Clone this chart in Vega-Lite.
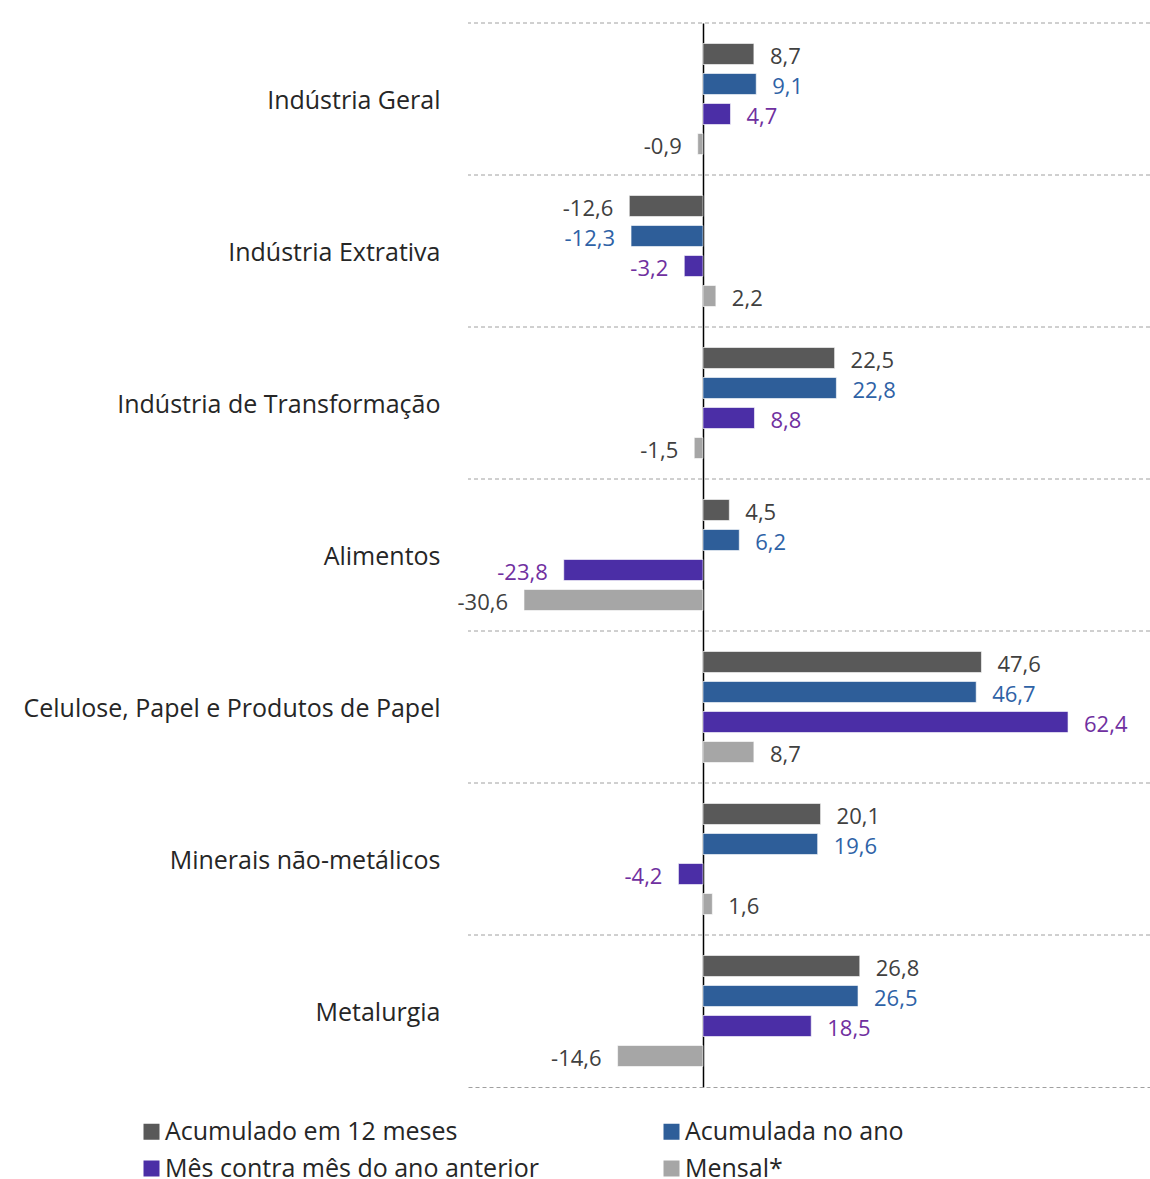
{
  "$schema": "https://vega.github.io/schema/vega-lite/v6.json",
  "width": 682,
  "height": 1064,
  "autosize": {"type": "none"},
  "padding": {"left": 468, "top": 23, "right": 0, "bottom": 92},
  "config": {
    "locale": {"number": {"decimal": ",", "thousands": ".", "grouping": [3], "currency": ["R$ ", ""], "minus": "-"}},
    "view": {"stroke": null},
    "font": "Open Sans"
  },
  "data": {
    "values": [
      {"setor": "Indústria Geral", "serie": "Acumulado em 12 meses", "valor": 8.7},
      {"setor": "Indústria Geral", "serie": "Acumulada no ano", "valor": 9.1},
      {"setor": "Indústria Geral", "serie": "Mês contra mês do ano anterior", "valor": 4.7},
      {"setor": "Indústria Geral", "serie": "Mensal*", "valor": -0.9},
      {"setor": "Indústria Extrativa", "serie": "Acumulado em 12 meses", "valor": -12.6},
      {"setor": "Indústria Extrativa", "serie": "Acumulada no ano", "valor": -12.3},
      {"setor": "Indústria Extrativa", "serie": "Mês contra mês do ano anterior", "valor": -3.2},
      {"setor": "Indústria Extrativa", "serie": "Mensal*", "valor": 2.2},
      {"setor": "Indústria de Transformação", "serie": "Acumulado em 12 meses", "valor": 22.5},
      {"setor": "Indústria de Transformação", "serie": "Acumulada no ano", "valor": 22.8},
      {"setor": "Indústria de Transformação", "serie": "Mês contra mês do ano anterior", "valor": 8.8},
      {"setor": "Indústria de Transformação", "serie": "Mensal*", "valor": -1.5},
      {"setor": "Alimentos", "serie": "Acumulado em 12 meses", "valor": 4.5},
      {"setor": "Alimentos", "serie": "Acumulada no ano", "valor": 6.2},
      {"setor": "Alimentos", "serie": "Mês contra mês do ano anterior", "valor": -23.8},
      {"setor": "Alimentos", "serie": "Mensal*", "valor": -30.6},
      {"setor": "Celulose, Papel e Produtos de Papel", "serie": "Acumulado em 12 meses", "valor": 47.6},
      {"setor": "Celulose, Papel e Produtos de Papel", "serie": "Acumulada no ano", "valor": 46.7},
      {"setor": "Celulose, Papel e Produtos de Papel", "serie": "Mês contra mês do ano anterior", "valor": 62.4},
      {"setor": "Celulose, Papel e Produtos de Papel", "serie": "Mensal*", "valor": 8.7},
      {"setor": "Minerais não-metálicos", "serie": "Acumulado em 12 meses", "valor": 20.1},
      {"setor": "Minerais não-metálicos", "serie": "Acumulada no ano", "valor": 19.6},
      {"setor": "Minerais não-metálicos", "serie": "Mês contra mês do ano anterior", "valor": -4.2},
      {"setor": "Minerais não-metálicos", "serie": "Mensal*", "valor": 1.6},
      {"setor": "Metalurgia", "serie": "Acumulado em 12 meses", "valor": 26.8},
      {"setor": "Metalurgia", "serie": "Acumulada no ano", "valor": 26.5},
      {"setor": "Metalurgia", "serie": "Mês contra mês do ano anterior", "valor": 18.5},
      {"setor": "Metalurgia", "serie": "Mensal*", "valor": -14.6}
    ]
  },
  "encoding": {
    "y": {
      "field": "setor",
      "type": "nominal",
      "sort": ["Indústria Geral", "Indústria Extrativa", "Indústria de Transformação", "Alimentos", "Celulose, Papel e Produtos de Papel", "Minerais não-metálicos", "Metalurgia"],
      "scale": {"paddingInner": 0, "paddingOuter": 0},
      "axis": {"title": null, "ticks": false, "domain": false, "grid": false, "labelFontSize": 25, "labelColor": "#262626", "labelPadding": 28, "labelLimit": 0, "labelOffset": 2}
    },
    "x": {
      "field": "valor",
      "type": "quantitative",
      "scale": {"domain": [-40.17, 76.41], "nice": false},
      "axis": {"title": null, "values": [0], "labels": false, "ticks": false, "grid": true, "gridColor": "#000000", "gridWidth": 1.5, "domain": true, "domainColor": "#a0a0a0", "domainDash": [4, 3], "domainWidth": 1}
    }
  },
  "layer": [
    {
      "transform": [{"filter": "datum.serie === 'Acumulado em 12 meses'"}],
      "mark": {"type": "rule", "color": "#a0a0a0", "strokeDash": [4, 3], "strokeWidth": 1},
      "encoding": {"y": {"field": "setor", "type": "nominal", "bandPosition": 0, "sort": ["Indústria Geral", "Indústria Extrativa", "Indústria de Transformação", "Alimentos", "Celulose, Papel e Produtos de Papel", "Minerais não-metálicos", "Metalurgia"]}, "x": null}
    },
    {
      "mark": {"type": "bar", "stroke": "#ffffff", "strokeWidth": 0.6},
      "encoding": {
        "yOffset": {"field": "serie", "sort": ["Acumulado em 12 meses", "Acumulada no ano", "Mês contra mês do ano anterior", "Mensal*"], "scale": {"paddingInner": 0.3, "paddingOuter": 0.683}},
        "color": {
          "field": "serie",
          "type": "nominal",
          "scale": {"domain": ["Acumulado em 12 meses", "Acumulada no ano", "Mês contra mês do ano anterior", "Mensal*"], "range": ["#595959", "#2e5e99", "#4b2ea6", "#a6a6a6"]},
          "legend": {"orient": "none", "direction": "horizontal", "legendX": -329, "legendY": 1096, "columns": 2, "title": null, "symbolType": "square", "symbolSize": 256, "symbolStrokeWidth": 0, "labelFontSize": 25, "labelColor": "#262626", "columnPadding": 120, "rowPadding": 11, "labelOffset": 1, "labelLimit": 0}
        }
      }
    },
    {
      "transform": [{"filter": "datum.valor >= 0"}],
      "mark": {"type": "text", "align": "left", "baseline": "middle", "dx": 16, "dy": 3, "fontSize": 22},
      "encoding": {
        "yOffset": {"field": "serie", "sort": ["Acumulado em 12 meses", "Acumulada no ano", "Mês contra mês do ano anterior", "Mensal*"], "scale": {"paddingInner": 0.3, "paddingOuter": 0.683}},
        "text": {"field": "valor", "type": "quantitative", "format": ".1f"},
        "color": {"field": "serie", "type": "nominal", "scale": {"domain": ["Acumulado em 12 meses", "Acumulada no ano", "Mês contra mês do ano anterior", "Mensal*"], "range": ["#404040", "#2e62a6", "#7030a0", "#404040"]}, "legend": null}
      }
    },
    {
      "transform": [{"filter": "datum.valor < 0"}],
      "mark": {"type": "text", "align": "right", "baseline": "middle", "dx": -16, "dy": 3, "fontSize": 22},
      "encoding": {
        "yOffset": {"field": "serie", "sort": ["Acumulado em 12 meses", "Acumulada no ano", "Mês contra mês do ano anterior", "Mensal*"], "scale": {"paddingInner": 0.3, "paddingOuter": 0.683}},
        "text": {"field": "valor", "type": "quantitative", "format": ".1f"},
        "color": {"field": "serie", "type": "nominal", "scale": {"domain": ["Acumulado em 12 meses", "Acumulada no ano", "Mês contra mês do ano anterior", "Mensal*"], "range": ["#404040", "#2e62a6", "#7030a0", "#404040"]}, "legend": null}
      }
    }
  ],
  "resolve": {"scale": {"color": "independent"}}
}
